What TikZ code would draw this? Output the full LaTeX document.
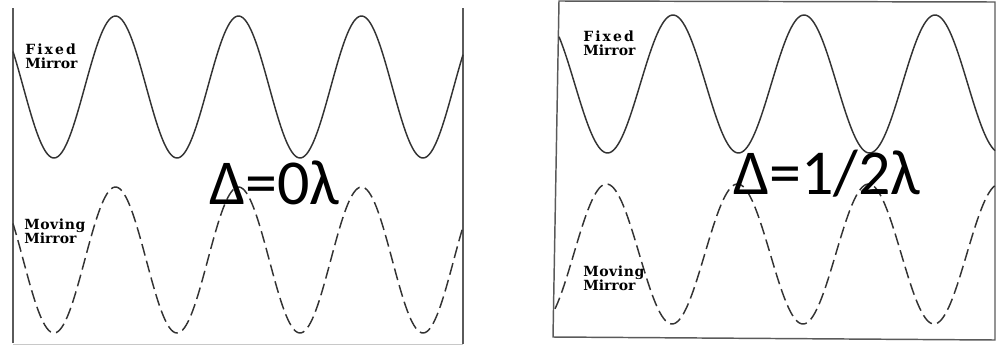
\documentclass[tikz,border=0pt]{standalone}
\usepackage{fontspec}
\setmainfont{DejaVu Serif}
\newfontfamily\shiftfont{Carlito}
\definecolor{InkGray}{HTML}{333333}
\definecolor{FrameGray}{HTML}{5A5A5A}
\definecolor{FaintGray}{HTML}{C8C8C8}

\begin{document}
\begin{tikzpicture}[x=0.75pt,y=-0.75pt,
  mirrorlabel/.style={font=\bfseries\fontsize{10.5}{10.5}\selectfont,align=left,inner sep=0pt,anchor=north west},
  shiftlabel/.style={font=\shiftfont\fontsize{48}{48}\selectfont,inner sep=0pt,anchor=base west},
  wave/.style={InkGray,line width=1.1pt,samples=240,smooth},
  dashwave/.style={wave,dash pattern=on 9pt off 4pt},
  frame/.style={FrameGray,line width=1.1pt}]
  \useasboundingbox (0,0) rectangle (996,347);
  % left panel: no path difference
  \draw[frame] (13,8) -- (13,343);
  \draw[frame] (463,8) -- (463,344);
  \draw[FaintGray,line width=.6pt] (13,344) -- (463,344);
  \draw[wave] plot[domain=13:463] (\x,{87-71*cos((\x-115.5)/123*360)});
  \draw[dashwave] plot[domain=13:463] (\x,{260-73*cos((\x-115.5)/123*360)});
  \node[mirrorlabel] (fixedL) at (25,44) {{\addfontfeatures{LetterSpace=15}Fixed}\\Mirror};
  \node[mirrorlabel] (movingL) at (24,219) {{\addfontfeatures{LetterSpace=4}Moving}\\Mirror};
  \node[shiftlabel] (shiftL) at (209,204) {Δ=0λ};
  % right panel: half a wavelength
  \draw[frame] (559,1) -- (995,2) -- (995,340) -- (553,337) -- cycle;
  \draw[wave] plot[domain=559:995] (\x,{84-69*cos((\x-673)/131*360)});
  \draw[dashwave] plot[domain=555:995] (\x,{254+70*cos((\x-672)/131*360)});
  \node[mirrorlabel] (fixedR) at (583,31) {{\addfontfeatures{LetterSpace=15}Fixed}\\Mirror};
  \node[mirrorlabel] (movingR) at (583,266) {{\addfontfeatures{LetterSpace=4}Moving}\\Mirror};
  \node[shiftlabel] (shiftR) at (733,194) {Δ=1/2λ};
\end{tikzpicture}
\end{document}
